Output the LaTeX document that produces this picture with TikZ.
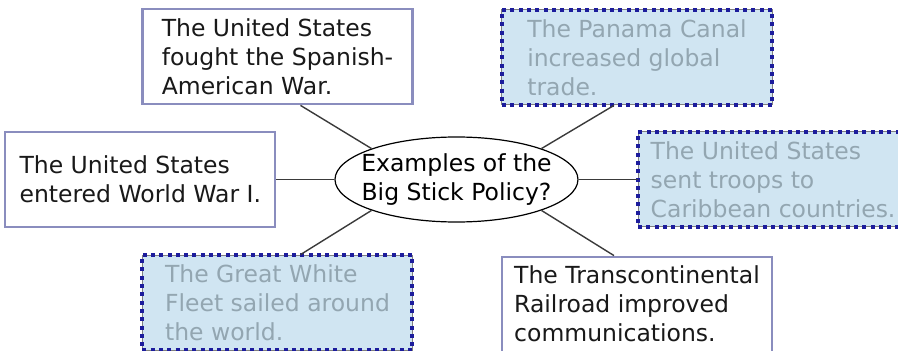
\documentclass[tikz,border=0pt]{standalone}
\usepackage{fontspec}
\setmainfont{DejaVu Sans}
\usetikzlibrary{positioning,shapes.geometric}

\definecolor{boxline}{HTML}{8A8DBE}
\definecolor{dotblue}{HTML}{1C1C9C}
\definecolor{pickfill}{HTML}{D0E5F2}
\definecolor{picktext}{HTML}{93A6B1}
\definecolor{spoke}{HTML}{3A3A3A}

\tikzset{
  answer/.style={rectangle, align=left, inner sep=0pt,
    minimum width=270pt, minimum height=95pt,
    font=\fontsize{23.5}{29}\selectfont},
  plain/.style={answer, draw=boxline, line width=2.2pt, fill=white, text=black!90},
  picked/.style={answer, draw=gray, line width=1pt, fill=pickfill, text=picktext,
    postaction={draw=dotblue, line width=4pt, dash pattern=on 4pt off 4.3pt}},
  question/.style={ellipse, draw, line width=1.2pt, fill=white, align=center,
    inner xsep=-12pt, inner ysep=0pt, minimum width=243pt, minimum height=85pt,
    font=\fontsize{23.5}{29}\selectfont},
  spokeline/.style={draw=spoke, line width=1.4pt}
}

\begin{document}
\begin{tikzpicture}[x=1pt, y=1pt]
    \useasboundingbox (-456.5,-171.5) rectangle (441.5,179.5);

    \node[question] (q) at (0,0) {Examples of the\\Big Stick Policy?};

    \node[plain, above=31pt of q, xshift=-179pt] (war) {The United States\\fought the Spanish-\\American War.};
    \node[plain, left=58pt of q] (wwi) {The United States\\entered World War I.};
    \node[picked, below=32pt of q, xshift=-179pt] (fleet) {The Great White\\Fleet sailed around\\the world.};

    \node[picked, above=31pt of q, xshift=180.5pt] (canal) {The Panama Canal\\increased global\\trade.};
    \node[picked, right=59pt of q] (troops) {The United States\\sent troops to\\Caribbean countries.};
    \node[plain, below=33pt of q, xshift=180.5pt] (rail) {The Transcontinental\\Railroad improved\\communications.};

    \path[spokeline] ([xshift=23pt]war.south) -- (q.160);
    \path[spokeline] (wwi.east) -- (q.west);
    \path[spokeline] ([xshift=23pt]fleet.north) -- (q.200);
    \path[spokeline] ([xshift=-23pt]canal.south) -- (q.20);
    \path[spokeline] (q.east) -- (troops.west);
    \path[spokeline] ([xshift=-23pt]rail.north) -- (q.340);

\end{tikzpicture}
\end{document}
